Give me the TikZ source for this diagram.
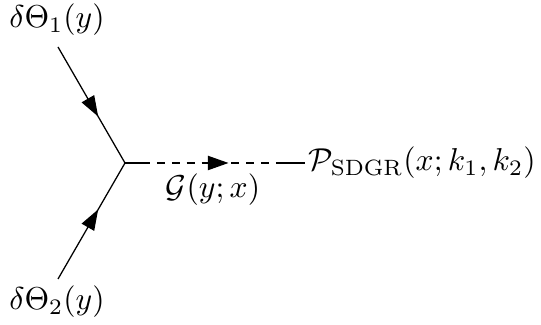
\documentclass[tikz,border=0pt]{standalone}
\usetikzlibrary{arrows.meta,decorations.markings}
\begin{document}
\begin{tikzpicture}[x=0.316pt,y=-0.316pt,
  lbl/.style={inner sep=1pt},
  fermion/.style={postaction={decorate},decoration={markings,
     mark=at position 0.6 with {\arrow{Triangle[length=6.5pt,width=4.5pt]}}}},
  scal/.style={dash pattern=on 7.9pt off 2.2pt on 2.5pt off 2.2pt on 2.5pt off 2.2pt on 2.5pt off 2.2pt on 2.5pt off 2.2pt on 2.5pt off 2.2pt on 2.5pt off 2.2pt on 2.5pt off 2.2pt on 2.5pt off 2.2pt on 12pt off 0pt,
     postaction={decorate},decoration={markings,
     mark=at position 0.575 with {\arrow{Triangle[length=6.5pt,width=4.5pt]}}}}]
\useasboundingbox (0,0) rectangle (541,325);
\node[lbl] (t1) at (57,20) {$\delta\Theta_1(y)$};
\node[lbl] (t2) at (57,302) {$\delta\Theta_2(y)$};
\coordinate (s1) at (58,47);
\coordinate (s2) at (58,279);
\coordinate (v) at (125,163);
\node[lbl,anchor=west] (p) at (305,163) {$\mathcal{P}_{\mathrm{SDGR}}(x;k_1,k_2)$};
\node[lbl] (g) at (213,190) {$\mathcal{G}(y;x)$};
\draw[fermion] (s1) -- (v);
\draw[fermion] (s2) -- (v);
\draw[scal] (v) -- (p.west);
\end{tikzpicture}
\end{document}
